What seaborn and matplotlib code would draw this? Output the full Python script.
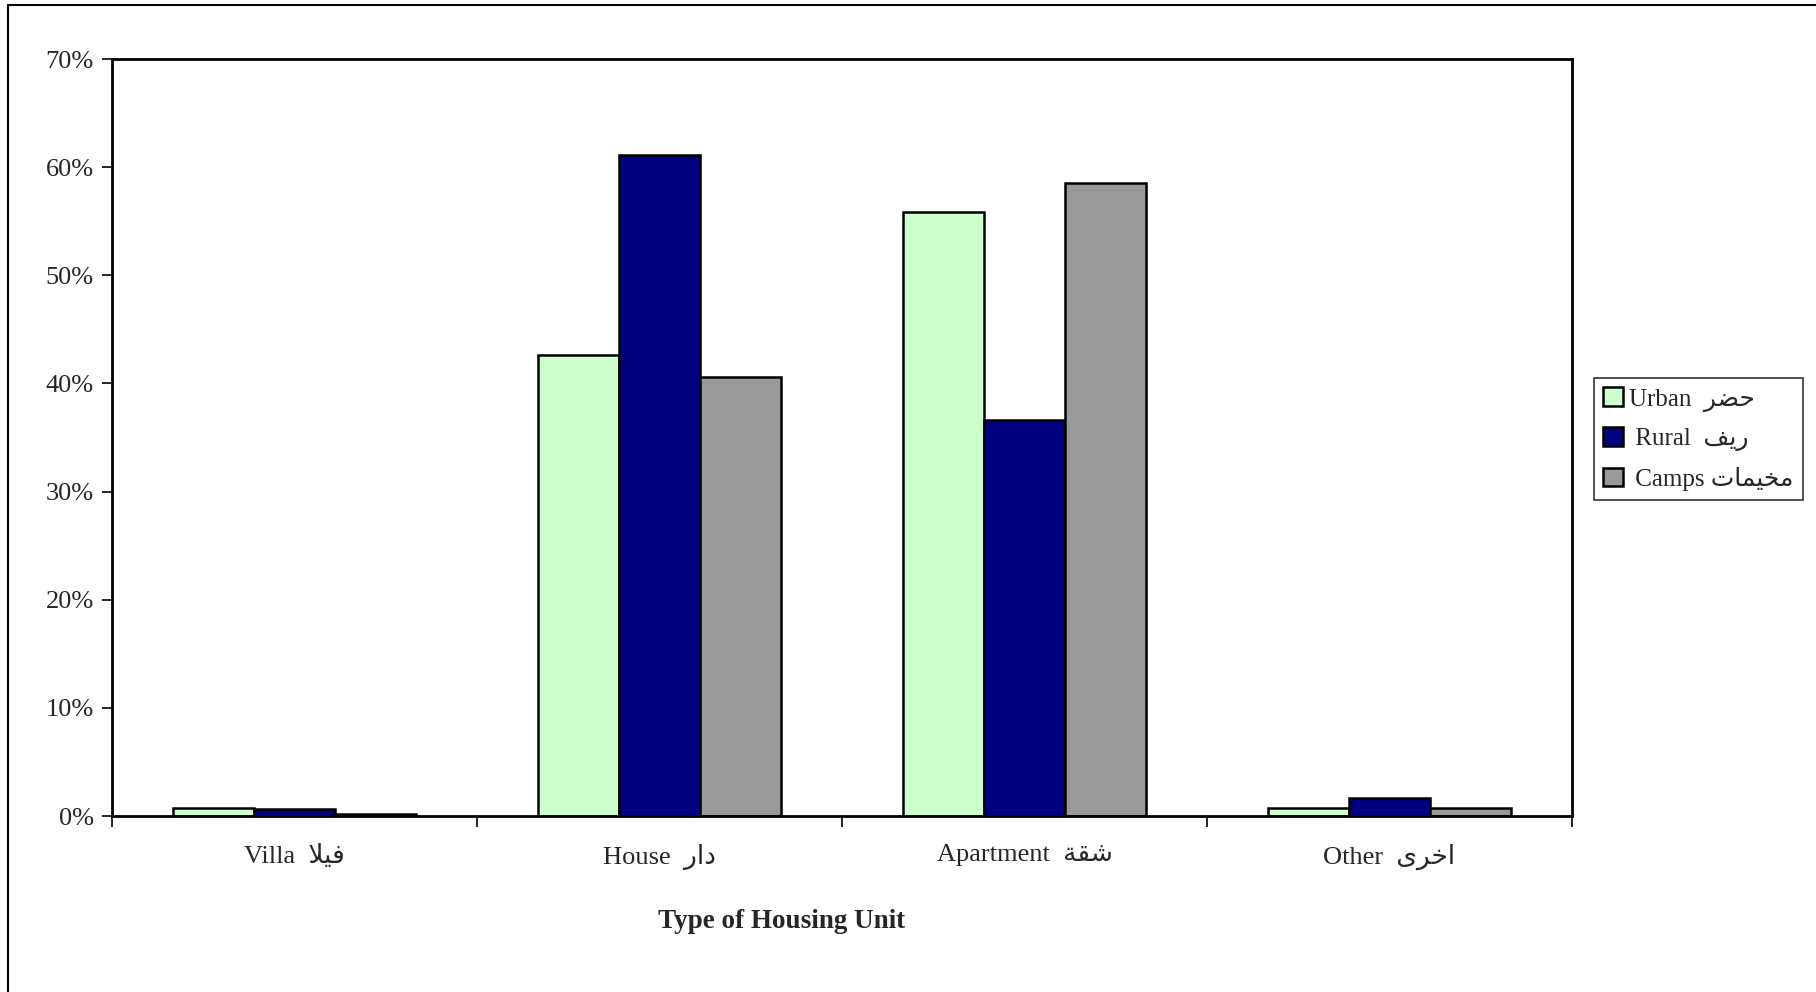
import numpy as np
import pandas as pd
import matplotlib
matplotlib.use("Agg")
import matplotlib.pyplot as plt
import seaborn as sns
from matplotlib.patches import Rectangle
from matplotlib.ticker import PercentFormatter

# Arabic words are written with presentation forms in visual order,
# since matplotlib does no Arabic shaping itself
categories = ["Villa  \uFEFC\uFEF4\uFED3", "House  \uFEAD\uFE8D\uFEA9",
              "Apartment  \uFE94\uFED8\uFEB7", "Other  \uFEEF\uFEAE\uFEA7\uFE8D"]
series = ["Urban  \uFEAE\uFEC0\uFEA3", " Rural  \uFED2\uFEF3\uFEAD",
          " Camps \uFE95\uFE8E\uFEE4\uFEF4\uFEA8\uFEE3"]
urban = [0.77, 42.6, 55.9, 0.77]
rural = [0.62, 61.1, 36.6, 1.7]
camps = [0.15, 40.6, 58.5, 0.71]
colors = ["#CCFFCC", "#000080", "#999999"]

df = pd.DataFrame({
    "type": categories * 3,
    "area": [series[0]] * 4 + [series[1]] * 4 + [series[2]] * 4,
    "pct": urban + rural + camps,
})

sns.set_style("white")
plt.rcParams["font.family"] = ["Liberation Serif", "DejaVu Sans"]

fig = plt.figure(figsize=(18.16, 9.92), dpi=100)
ax = fig.add_axes([0.0617, 0.1774, 0.8039, 0.7631])

sns.barplot(data=df, x="type", y="pct", hue="area", palette=colors,
            width=0.667, gap=0, edgecolor="black", linewidth=1.8,
            saturation=1, ax=ax, legend=True)

ax.set_ylim(0, 70)
ax.set_xlim(-0.5, 3.5)
ax.set_yticks(np.arange(0, 71, 10))
ax.yaxis.set_major_formatter(PercentFormatter(decimals=0))
ax.tick_params(axis="y", labelsize=19, length=7, width=1.2, direction="out",
               left=True, pad=6, color="black")

# separators between categories as major ticks, labels on minor ticks
ax.set_xticks([-0.5, 0.5, 1.5, 2.5, 3.5])
ax.set_xticklabels([])
ax.set_xticks(range(4), minor=True)
ax.set_xticklabels(categories, minor=True)
ax.tick_params(axis="x", which="major", length=8, width=1.2, bottom=True,
               direction="out", color="black")
ax.tick_params(axis="x", which="minor", length=0, labelsize=19, pad=20)

ax.set_xlabel("Type of Housing Unit", fontsize=19.5, fontweight="bold")
ax.xaxis.set_label_coords(0.4587, -0.123)
ax.set_ylabel("")

for s in ax.spines.values():
    s.set_visible(True)
    s.set_color("black")
    s.set_linewidth(2)

leg = ax.legend(loc="upper left", bbox_to_anchor=(0.8777, 0.619),
                bbox_transform=fig.transFigure, fontsize=18, frameon=True,
                fancybox=False, edgecolor="black", handlelength=0.78,
                handleheight=0.78, handletextpad=0.25, labelspacing=0.62,
                borderpad=0.38, borderaxespad=0)
leg.get_frame().set_linewidth(1.2)
for h in leg.legend_handles:
    h.set_edgecolor("black")
    h.set_linewidth(1.8)

# outer chart frame
fig.patches.append(Rectangle((0.0045, -0.01), 1.0, 1.005, transform=fig.transFigure,
                             fill=False, edgecolor="black", linewidth=1.5))

fig.savefig("out.png", dpi=100)
